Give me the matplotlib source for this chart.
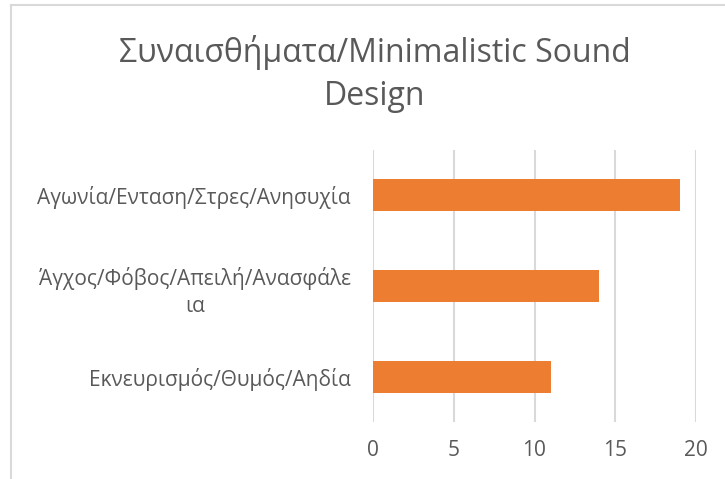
import matplotlib
matplotlib.use('Agg')
import matplotlib.pyplot as plt
from matplotlib.lines import Line2D

plt.rcParams['font.family'] = ['Open Sans', 'Noto Sans', 'DejaVu Sans']

# δεδομένα (από πάνω προς τα κάτω)
categories = ['Αγωνία/Ενταση/Στρες/Ανησυχία',
              'Άγχος/Φόβος/Απειλή/Ανασφάλε\nια',
              'Εκνευρισμός/Θυμός/Αηδία']
values = [19, 14, 11]
xticks = [0, 5, 10, 15, 20]

text_color = '#595959'
bar_color = '#ed7d31'
grid_color = '#d9d9d9'

fig = plt.figure(figsize=(7.25, 4.79), dpi=100, facecolor='white')
ax = fig.add_axes([373 / 725, 1 - 422 / 479, (696 - 373) / 725, (422 - 150) / 479])

pos = list(range(len(categories)))
ax.barh(pos, values, height=0.355, color=bar_color, zorder=3)
ax.set_ylim(len(categories) - 0.5, -0.5)
ax.set_xlim(0, 20)
ax.set_xticks(xticks)
ax.set_yticks(pos)
ax.set_yticklabels(categories)
for lbl in ax.get_yticklabels():
    lbl.set_multialignment('center')
    lbl.set_linespacing(1.4)

ax.grid(axis='x', color=grid_color, linewidth=1.5, zorder=0)
ax.tick_params(axis='both', length=0, labelsize=15, colors=text_color)
ax.tick_params(axis='x', pad=13)
ax.tick_params(axis='y', pad=16)
for s in ax.spines.values():
    s.set_visible(False)

fig.text(375 / 725, 1 - 74 / 479, 'Συναισθήματα/Minimalistic Sound\nDesign',
         ha='center', va='center', fontsize=23, color=text_color,
         linespacing=1.4)

# πλαίσιο γραφήματος
fig.add_artist(Line2D([11 / 725, 11 / 725], [0, 1 - 5 / 479], color=grid_color, linewidth=1.5))
fig.add_artist(Line2D([11 / 725, 1], [1 - 5 / 479, 1 - 5 / 479], color=grid_color, linewidth=1.5))

fig.savefig('out.png', dpi=100, facecolor='white')
